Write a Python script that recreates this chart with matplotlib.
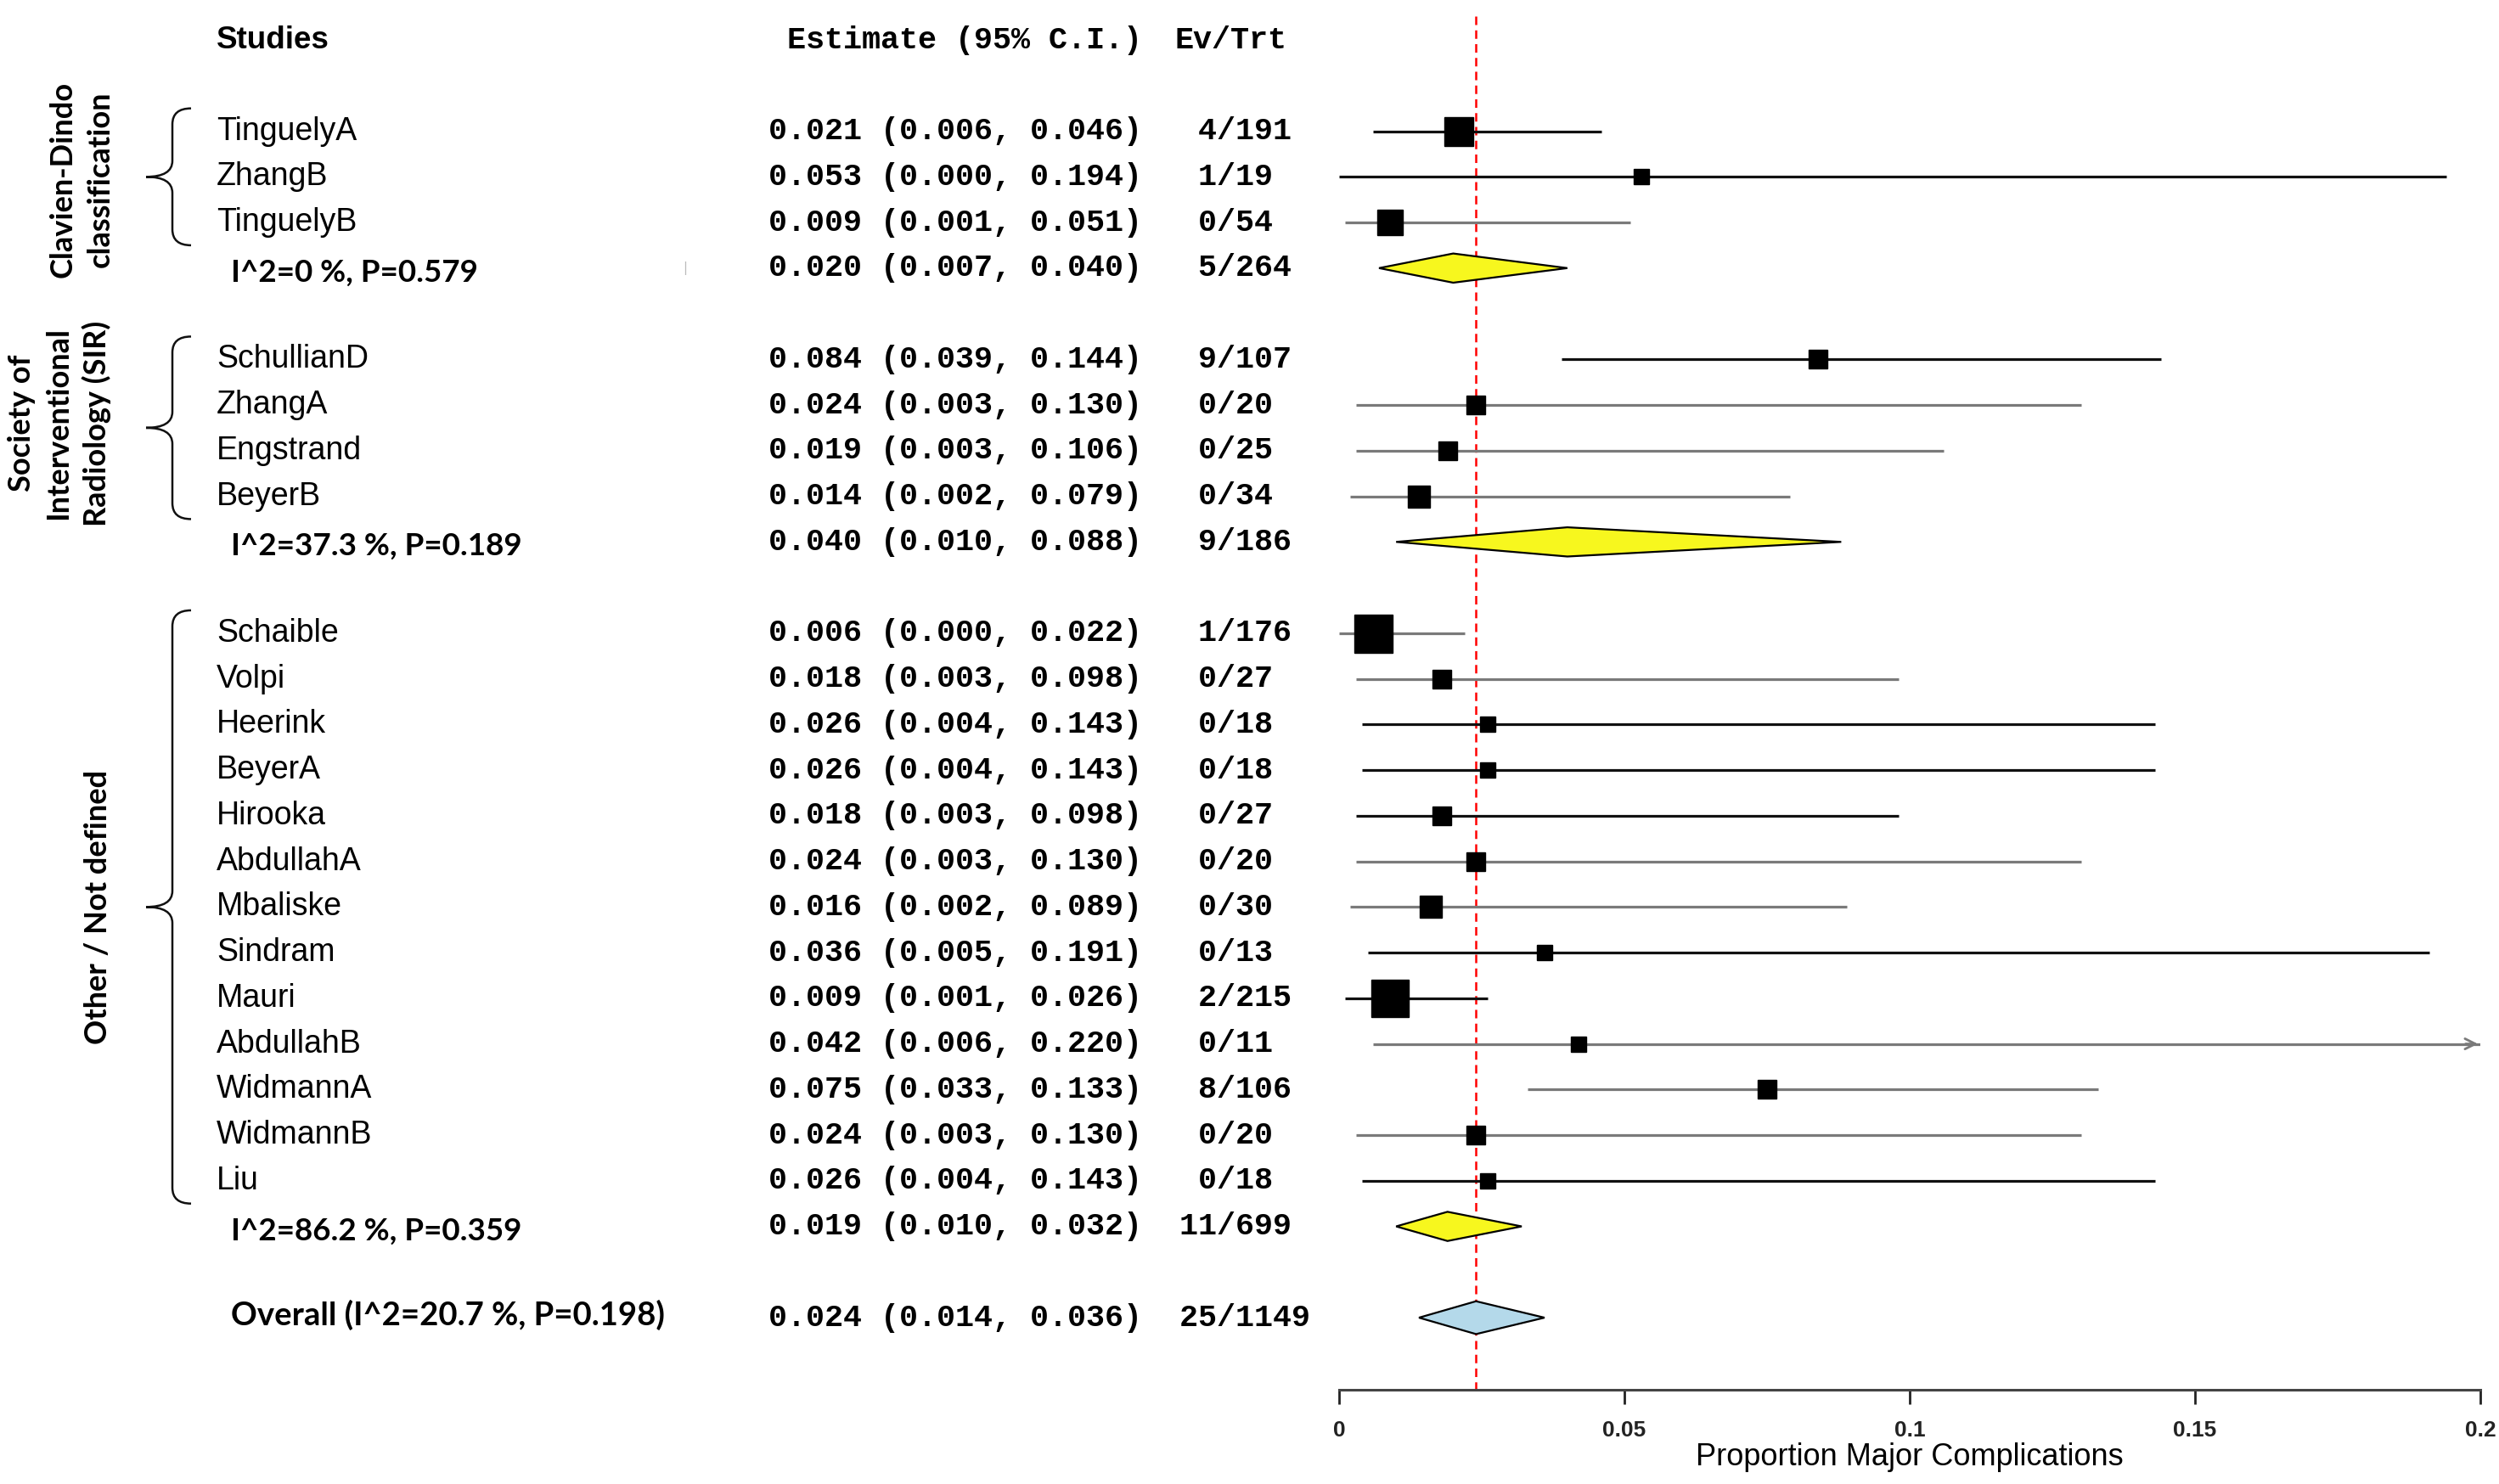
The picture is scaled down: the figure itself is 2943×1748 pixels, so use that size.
import matplotlib.pyplot as plt
from matplotlib.path import Path
from matplotlib.patches import PathPatch, Polygon
from matplotlib.transforms import blended_transform_factory

# ---- data ----
studies = ['TinguelyA', 'ZhangB', 'TinguelyB',
           'SchullianD', 'ZhangA', 'Engstrand', 'BeyerB',
           'Schaible', 'Volpi', 'Heerink', 'BeyerA', 'Hirooka', 'AbdullahA',
           'Mbaliske', 'Sindram', 'Mauri', 'AbdullahB', 'WidmannA', 'WidmannB', 'Liu']
study_group = [0, 0, 0,
               1, 1, 1, 1,
               2, 2, 2, 2, 2, 2, 2, 2, 2, 2, 2, 2, 2]
est = [0.021, 0.053, 0.009,
       0.084, 0.024, 0.019, 0.014,
       0.006, 0.018, 0.026, 0.026, 0.018, 0.024, 0.016, 0.036, 0.009, 0.042, 0.075, 0.024, 0.026]
ci_lo = [0.006, 0.000, 0.001,
         0.039, 0.003, 0.003, 0.002,
         0.000, 0.003, 0.004, 0.004, 0.003, 0.003, 0.002, 0.005, 0.001, 0.006, 0.033, 0.003, 0.004]
ci_hi = [0.046, 0.194, 0.051,
         0.144, 0.130, 0.106, 0.079,
         0.022, 0.098, 0.143, 0.143, 0.098, 0.130, 0.089, 0.191, 0.026, 0.220, 0.133, 0.130, 0.143]
events = [4, 1, 0,
          9, 0, 0, 0,
          1, 0, 0, 0, 0, 0, 0, 0, 2, 0, 8, 0, 0]
totals = [191, 19, 54,
          107, 20, 25, 34,
          176, 27, 18, 18, 27, 20, 30, 13, 215, 11, 106, 20, 18]
# relative box weight (box side, largest = 1)
rel_weight = [0.76, 0.38, 0.67,
              0.51, 0.47, 0.51, 0.56,
              1.00, 0.49, 0.42, 0.42, 0.49, 0.47, 0.56, 0.38, 0.96, 0.38, 0.49, 0.47, 0.42]

group_names = ['Clavien-Dindo\nclassification',
               'Society of\nInterventional\nRadiology (SIR)',
               'Other / Not defined']
group_i2 = [0, 37.3, 86.2]
group_p = [0.579, 0.189, 0.359]
group_est = [0.020, 0.040, 0.019]
group_lo = [0.007, 0.010, 0.010]
group_hi = [0.040, 0.088, 0.032]
group_ev = [5, 9, 11]
group_n = [264, 186, 699]

overall_est, overall_lo, overall_hi = 0.024, 0.014, 0.036
overall_ev, overall_n = 25, 1149
overall_i2, overall_p = 20.7, 0.198

xticks = [0, 0.05, 0.1, 0.15, 0.2]
xtick_labels = ['0', '0.05', '0.1', '0.15', '0.2']

# which CI lines were drawn grey in the original
ci_grey = [False, False, True,
           False, True, True, True,
           True, True, False, False, False, True, True, False, False, True, True, True, False]

# ---- fonts ----
SANS = ['Liberation Sans', 'DejaVu Sans']
MONO = ['Liberation Mono', 'DejaVu Sans Mono']
BOLD = ['Lato', 'DejaVu Sans']
NARROW = ['Liberation Sans Narrow', 'Liberation Sans']

W, H = 2943, 1748
fig = plt.figure(figsize=(W / 100, H / 100), dpi=100)
ax = fig.add_axes([1577 / W, (H - 1637) / H, (2921 - 1577) / W, 1637 / H])
ax.set_xlim(0, 0.2)
ax.set_ylim(29.58, -0.875)

tr = blended_transform_factory(fig.transFigure, ax.transData)
def fx(px):
    return px / W

# ---- row layout ----
rows = []
group_rows = []
sum_rows = []
r = 2
for g in range(len(group_names)):
    idx = [i for i, sg in enumerate(study_group) if sg == g]
    gr = []
    for i in idx:
        rows.append(r)
        gr.append(r)
        r += 1
    group_rows.append(gr)
    sum_rows.append(r)
    r += 2
overall_row = r

BLACK = '#111111'
GREY = '#7a7a7a'

# header
ax.text(fx(255), 0, 'Studies', transform=tr, family=SANS, weight='bold',
        fontsize=26.5, ha='left', va='center')
ax.text(fx(927), 0, 'Estimate (95% C.I.)', transform=tr, family=MONO, weight='bold',
        fontsize=26.5, ha='left', va='center')
ax.text(fx(1383), 0, 'Ev/Trt', transform=tr, family=MONO, weight='bold',
        fontsize=26.5, ha='left', va='center')

# studies
for i, name in enumerate(studies):
    y = rows[i]
    col = GREY if ci_grey[i] else BLACK
    top = min(ci_hi[i], 0.2)
    ax.plot([ci_lo[i], top], [y, y], color=col, lw=2.3, solid_capstyle='butt', zorder=2)
    if ci_hi[i] > 0.2:
        ax.annotate('', xy=(0.2, y), xytext=(0.197, y),
                    arrowprops=dict(arrowstyle='->', color=col, lw=2.0,
                                    mutation_scale=22))
    ax.plot(est[i], y, marker='s', color='black', markersize=rel_weight[i] * 32.4,
            linestyle='none', zorder=3)
    ax.text(fx(255), y, name, transform=tr, family=SANS, fontsize=27,
            ha='left', va='center')
    s = f'{est[i]:.3f} ({ci_lo[i]:.3f}, {ci_hi[i]:.3f})  {events[i]:>2}/{totals[i]}'
    ax.text(fx(905), y, s, transform=tr, family=MONO, weight='bold',
            fontsize=26.5, ha='left', va='center')

def diamond(e, lo, hi, y, h, fc):
    ax.add_patch(Polygon([(lo, y), (e, y - h), (hi, y), (e, y + h)], closed=True,
                         facecolor=fc, edgecolor='black', lw=1.6, zorder=3))

# subgroup summaries
for g in range(len(group_names)):
    y = sum_rows[g]
    diamond(group_est[g], group_lo[g], group_hi[g], y, 0.32, '#f7f71e')
    ax.text(fx(272), y + 0.1, f'I^2={group_i2[g]:g} %, P={group_p[g]:.3f}', transform=tr,
            family=BOLD, weight='bold', fontsize=26.5, ha='left', va='center')
    s = f'{group_est[g]:.3f} ({group_lo[g]:.3f}, {group_hi[g]:.3f})  {group_ev[g]:>2}/{group_n[g]}'
    ax.text(fx(905), y, s, transform=tr, family=MONO, weight='bold',
            fontsize=26.5, ha='left', va='center')

# overall
diamond(overall_est, overall_lo, overall_hi, overall_row, 0.36, '#b4d9ea')
ax.text(fx(272), overall_row - 0.05, f'Overall (I^2={overall_i2:g} %, P={overall_p:.3f})',
        transform=tr, family=BOLD, weight='bold', fontsize=27.5, ha='left', va='center')
s = f'{overall_est:.3f} ({overall_lo:.3f}, {overall_hi:.3f})  {overall_ev:>2}/{overall_n}'
ax.text(fx(905), overall_row, s, transform=tr, family=MONO, weight='bold',
        fontsize=26.5, ha='left', va='center')

# stray mark from the original scan
ax.text(fx(807), sum_rows[0], '|', transform=tr, color='#bbbbbb', fontsize=11,
        ha='center', va='center')

# reference line at the overall estimate
ax.plot([overall_est, overall_est], [-0.52, 29.58], color='red', lw=1.8,
        linestyle=(0, (4, 2.5)), zorder=1)

# braces + group labels
label_x = [96, 70, 116]
label_dy = [0.05, -0.1, 0.0]
for g, gr in enumerate(group_rows):
    y0, y1 = gr[0] - 0.5, gr[-1] + 0.5
    ym = (y0 + y1) / 2
    xr, xv, xl = fx(225), fx(203), fx(172)
    c = 0.35
    verts = [(xr, y0), (xv, y0), (xv, y0 + c),
             (xv, ym - c), (xv, ym), (xl, ym),
             (xv, ym), (xv, ym + c),
             (xv, y1 - c), (xv, y1), (xr, y1)]
    codes = [Path.MOVETO, Path.CURVE3, Path.CURVE3,
             Path.LINETO, Path.CURVE3, Path.CURVE3,
             Path.CURVE3, Path.CURVE3,
             Path.LINETO, Path.CURVE3, Path.CURVE3]
    ax.add_patch(PathPatch(Path(verts, codes), transform=tr, fill=False,
                           edgecolor=BLACK, lw=1.8, clip_on=False))
    ax.text(fx(label_x[g]), ym + label_dy[g], group_names[g], transform=tr, rotation=90,
            family=BOLD, weight='bold', fontsize=26, ha='center', va='center',
            multialignment='center', linespacing=1.4)

# x axis
for sp in ['top', 'right', 'left']:
    ax.spines[sp].set_visible(False)
ax.spines['bottom'].set_color('#444444')
ax.spines['bottom'].set_linewidth(2.2)
ax.spines['bottom'].set_bounds(0, 0.2)
ax.set_yticks([])
ax.set_xticks(xticks)
ax.set_xticklabels(xtick_labels, family=NARROW, fontsize=19, weight='bold')
ax.tick_params(axis='x', direction='out', length=12, width=2, pad=14, colors='#222222')
ax.set_xlabel('Proportion Major Complications', family=NARROW, fontsize=26)
ax.xaxis.set_label_coords(0.5, (1637 - 1717) / 1637)
ax.xaxis.label.set_va('center')

fig.savefig('out.png', dpi=100, facecolor='white')
